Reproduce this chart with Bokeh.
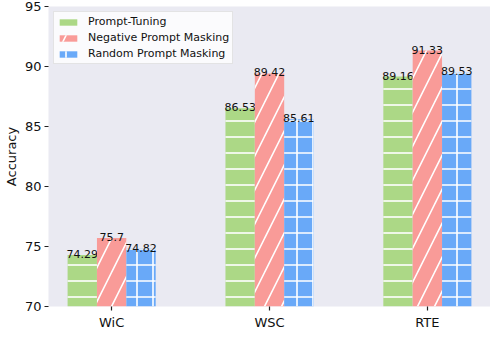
from bokeh.plotting import figure
from bokeh.models import ColumnDataSource, Range1d, FixedTicker, Legend, LegendItem
from bokeh.transform import dodge
from bokeh.core.properties import value
from bokeh.embed import file_html
from bokeh.resources import INLINE

categories = ["WiC", "WSC", "RTE"]
prompt_tuning = [74.29, 86.53, 89.16]
negative_masking = [75.7, 89.42, 91.33]
random_masking = [74.82, 85.61, 89.53]
y_ticks = [70, 75, 80, 85, 90, 95]

series_names = ["Prompt-Tuning", "Negative Prompt Masking", "Random Prompt Masking"]
colors = ["#acd886", "#f99b98", "#69a9f8"]
hatches = ["horizontal_line", "right_diagonal_line", "cross"]
hatch_scales = [16, 34, 16]
offsets = [-0.186, 0.0, 0.186]
bar_w = 0.186

FONT = "DejaVu Sans"
x_pos = list(range(len(categories)))

src = ColumnDataSource(dict(
    x=x_pos,
    pt=prompt_tuning, neg=negative_masking, rnd=random_masking,
    pt_l=[str(v) for v in prompt_tuning],
    neg_l=[str(v) for v in negative_masking],
    rnd_l=[str(v) for v in random_masking],
))

p = figure(width=490, height=332, output_backend="svg", toolbar_location=None,
           x_range=Range1d(-0.4, 2.4), y_range=Range1d(70, 95),
           min_border_left=0, min_border_right=0, min_border_top=6, min_border_bottom=0)
p.background_fill_color = "#eaeaf2"
p.border_fill_color = "white"
p.outline_line_color = None
p.xgrid.visible = False
p.ygrid.visible = False

cols = ["pt", "neg", "rnd"]
renderers = []
for col, name, c, h, hs, off in zip(cols, series_names, colors, hatches, hatch_scales, offsets):
    r = p.vbar(x=dodge("x", off), top=col, bottom=70, width=bar_w, source=src,
               fill_color=c, line_color=None,
               hatch_pattern=h, hatch_color="white", hatch_weight=1.6, hatch_scale=hs)
    renderers.append(r)
    p.text(x=dodge("x", off), y=col, text=col + "_l", source=src,
           text_align="center", text_baseline="alphabetic", y_offset=-1,
           text_font=value(FONT), text_font_size="11px", text_color="#111111")

legend = Legend(items=[LegendItem(label=n, renderers=[r]) for n, r in zip(series_names, renderers)],
                location="top_left")
legend.margin = 5
legend.padding = 3
legend.spacing = 3
legend.label_height = 13
legend.glyph_height = 8
legend.glyph_width = 22
legend.label_standoff = 9
legend.label_text_font = FONT
legend.label_text_font_size = "11px"
legend.label_text_color = "#111111"
legend.border_line_color = "#cccccc"
legend.border_line_width = 1
legend.background_fill_color = "white"
legend.background_fill_alpha = 0.8
p.add_layout(legend)

# axes
p.xaxis.ticker = FixedTicker(ticks=x_pos)
p.xaxis.major_label_overrides = {i: c for i, c in zip(x_pos, categories)}
p.yaxis.ticker = FixedTicker(ticks=y_ticks)
p.yaxis.axis_label = "Accuracy"
for ax in (p.xaxis, p.yaxis):
    ax.axis_line_color = None
    ax.minor_tick_line_color = None
    ax.major_tick_in = 0
    ax.major_tick_out = 4
    ax.major_tick_line_color = "#222222"
    ax.major_tick_line_width = 1.2
    ax.major_label_text_font = FONT
    ax.major_label_text_font_size = "13px"
    ax.major_label_text_color = "#111111"
    ax.axis_label_text_font = FONT
    ax.axis_label_text_font_size = "13px"
    ax.axis_label_text_font_style = "normal"
    ax.axis_label_text_color = "#111111"
p.yaxis.major_label_standoff = 3
p.yaxis.axis_label_standoff = 3
p.xaxis.major_label_standoff = 4

open("out.html", "w").write(file_html(p, INLINE))
